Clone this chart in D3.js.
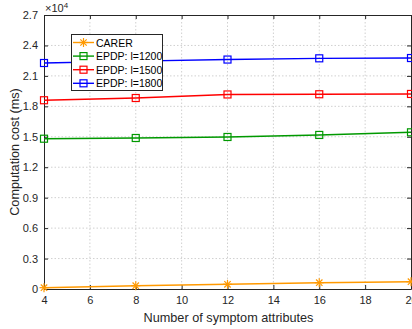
<!doctype html>
<html>
<head>
<meta charset="utf-8">
<script src="https://d3js.org/d3.v7.min.js"></script>
<style>
 body { margin:0; background:#fff; }
 text { font-family: "Liberation Sans", Arial, sans-serif; }
</style>
</head>
<body>
<script>
// data
var attrs = [4, 8, 12, 16, 20];
var carer = [130, 325, 465, 620, 720];
var epdp1200 = [14810, 14880, 14980, 15180, 15440];
var epdp1500 = [18600, 18820, 19170, 19190, 19220];
var epdp1800 = [22270, 22450, 22610, 22730, 22760];
var xTicks = [4, 6, 8, 10, 12, 14, 16, 18, 20];
var yTicks = [0, 0.3, 0.6, 0.9, 1.2, 1.5, 1.8, 2.1, 2.4, 2.7];
var seriesNames = ["CARER", "EPDP: l=1200", "EPDP: l=1500", "EPDP: l=1800"];

var W = 412, H = 329;
var pL = 44, pR = 411, pT = 15, pB = 289;

var svg = d3.select("body").append("svg")
  .attr("width", W).attr("height", H);

var x = d3.scaleLinear().domain([4, 20]).range([pL, pR]);
var y = d3.scaleLinear().domain([0, 27000]).range([pB, pT]);

var axisCol = "#262626";

// grid
svg.append("g").selectAll("line").data(xTicks.slice(1, -1)).enter().append("line")
  .attr("x1", function(d){ return x(d); }).attr("x2", function(d){ return x(d); })
  .attr("y1", pT).attr("y2", pB)
  .attr("stroke", "#d0d0d0").attr("stroke-width", 1).attr("stroke-dasharray", "1.5 2");
svg.append("g").selectAll("line").data(yTicks.slice(1, -1)).enter().append("line")
  .attr("x1", pL).attr("x2", pR)
  .attr("y1", function(d){ return y(d*10000); }).attr("y2", function(d){ return y(d*10000); })
  .attr("stroke", "#d0d0d0").attr("stroke-width", 1).attr("stroke-dasharray", "1.5 2");

// axes
var xAxis = d3.axisBottom(x).tickValues(xTicks).tickSize(-4).tickPadding(7).tickSizeOuter(0);
var yAxis = d3.axisLeft(y).tickValues(yTicks.map(function(d){ return d*10000; }))
  .tickFormat(function(d){ return d3.format("")(+(d/10000).toFixed(1)); })
  .tickSize(-4).tickPadding(6).tickSizeOuter(0);

var gx = svg.append("g").attr("transform", "translate(0," + pB + ")").call(xAxis);
var gy = svg.append("g").attr("transform", "translate(" + pL + ",0)").call(yAxis);
var gxt = svg.append("g").attr("transform", "translate(0," + pT + ")")
  .call(d3.axisTop(x).tickValues(xTicks).tickSize(-4).tickFormat("").tickSizeOuter(0));
var gyr = svg.append("g").attr("transform", "translate(" + pR + ",0)")
  .call(d3.axisRight(y).tickValues(yTicks.map(function(d){ return d*10000; })).tickSize(-4).tickFormat("").tickSizeOuter(0));

[gx, gy, gxt, gyr].forEach(function(g){
  g.selectAll("path").attr("stroke", axisCol).attr("stroke-width", 1);
  g.selectAll("line").attr("stroke", axisCol);
  g.selectAll("text").attr("fill", axisCol).style("font-size", "11px")
    .style("font-family", "Liberation Sans, Arial, sans-serif");
});

// exponent
var ex = svg.append("text").attr("x", pL + 1).attr("y", 12)
  .attr("fill", axisCol).style("font-size", "11px");
ex.append("tspan").text("\u00d710");
ex.append("tspan").attr("dy", -4).style("font-size", "8px").text("4");

// axis labels
svg.append("text").attr("x", (pL + pR) / 2 + 1).attr("y", 321.5)
  .attr("text-anchor", "middle").attr("fill", axisCol).style("font-size", "12.7px")
  .text("Number of symptom attributes");
svg.append("text").attr("transform", "translate(19," + ((pT + pB) / 2) + ") rotate(-90)")
  .attr("text-anchor", "middle").attr("fill", axisCol).style("font-size", "12.7px")
  .text("Computation cost (ms)");

// series
var colors = ["#ff9900", "#009900", "#ff0000", "#0000ff"];
var allSeries = [carer, epdp1200, epdp1500, epdp1800];
var line = d3.line().x(function(d, i){ return x(attrs[i]); }).y(function(d){ return y(d); });

function drawStar(g, cx, cy, col) {
  var r = 4.5;
  for (var k = 0; k < 4; k++) {
    var a = k * Math.PI / 4;
    g.append("line")
      .attr("x1", cx - r * Math.cos(a)).attr("y1", cy - r * Math.sin(a))
      .attr("x2", cx + r * Math.cos(a)).attr("y2", cy + r * Math.sin(a))
      .attr("stroke", col).attr("stroke-width", 1.2);
  }
}
function drawSquare(g, cx, cy, col) {
  g.append("rect").attr("x", cx - 3.5).attr("y", cy - 3.5)
    .attr("width", 7).attr("height", 7)
    .attr("fill", "none").attr("stroke", col).attr("stroke-width", 1.2);
}

var plot = svg.append("g");
allSeries.forEach(function(s, si){
  plot.append("path").datum(s).attr("d", line)
    .attr("fill", "none").attr("stroke", colors[si]).attr("stroke-width", 1.4);
  s.forEach(function(v, i){
    if (si === 0) drawStar(plot, x(attrs[i]), y(v), colors[si]);
    else drawSquare(plot, x(attrs[i]), y(v), colors[si]);
  });
});

// legend
var lg = svg.append("g");
lg.append("rect").attr("x", 71.5).attr("y", 34.5).attr("width", 91).attr("height", 56)
  .attr("fill", "#fff").attr("stroke", axisCol).attr("stroke-width", 1);
seriesNames.forEach(function(n, i){
  var ly = 42.5 + i * 13.6;
  lg.append("line").attr("x1", 73).attr("x2", 94).attr("y1", ly).attr("y2", ly)
    .attr("stroke", colors[i]).attr("stroke-width", 1.4);
  if (i === 0) drawStar(lg, 83.5, ly, colors[i]);
  else drawSquare(lg, 83.5, ly, colors[i]);
  lg.append("text").attr("x", 96).attr("y", ly + 4).attr("fill", "#000")
    .style("font-size", "10.5px").text(n);
});
</script>
</body>
</html>
